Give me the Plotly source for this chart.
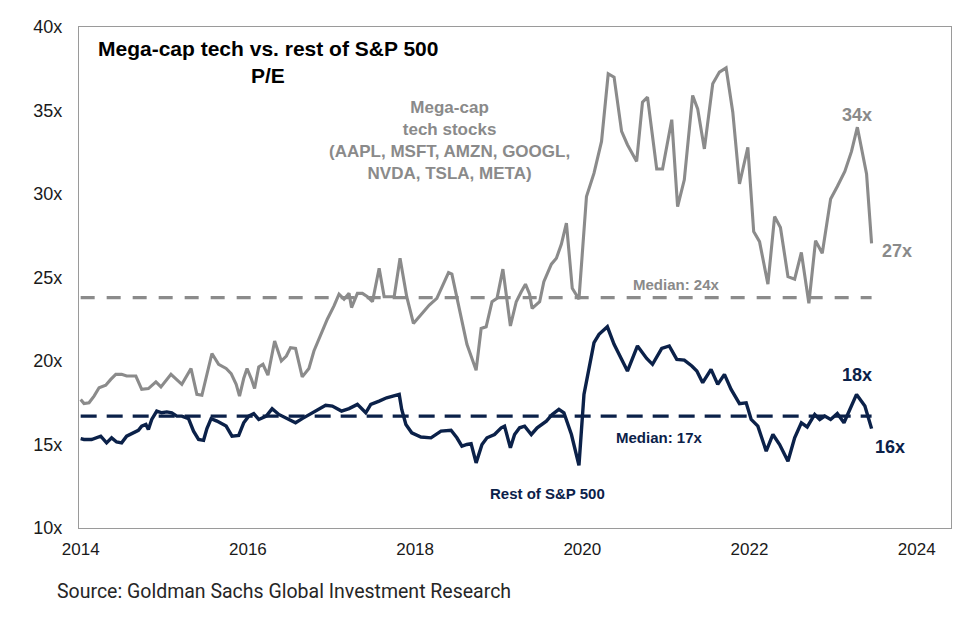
import plotly.graph_objects as go

# ---------------- data ----------------
mega_years = [2014.0, 2014.04, 2014.10, 2014.16, 2014.22, 2014.30, 2014.36, 2014.42, 2014.49, 2014.55,
              2014.66, 2014.73, 2014.81, 2014.90, 2014.96, 2015.08, 2015.21, 2015.32, 2015.39, 2015.45,
              2015.57, 2015.65, 2015.74, 2015.80, 2015.86, 2015.90, 2015.95, 2015.99, 2016.04, 2016.08,
              2016.13, 2016.18, 2016.24, 2016.32, 2016.40, 2016.46, 2016.51, 2016.57, 2016.65, 2016.73,
              2016.79, 2016.87, 2016.95, 2017.03, 2017.09, 2017.15, 2017.21, 2017.24, 2017.31, 2017.37,
              2017.43, 2017.49, 2017.57, 2017.63, 2017.75, 2017.82, 2017.90, 2017.98, 2018.07, 2018.17,
              2018.26, 2018.32, 2018.40, 2018.44, 2018.50, 2018.56, 2018.62, 2018.73, 2018.79, 2018.85,
              2018.92, 2018.98, 2019.05, 2019.14, 2019.21, 2019.27, 2019.32, 2019.37, 2019.40, 2019.49,
              2019.54, 2019.63, 2019.69, 2019.75, 2019.81, 2019.88, 2019.96, 2020.05, 2020.14, 2020.23,
              2020.31, 2020.38, 2020.47, 2020.54, 2020.65, 2020.72, 2020.78, 2020.89, 2020.96, 2021.07,
              2021.14, 2021.22, 2021.32, 2021.38, 2021.46, 2021.56, 2021.64, 2021.72, 2021.80, 2021.88,
              2021.98, 2022.05, 2022.12, 2022.22, 2022.30, 2022.37, 2022.46, 2022.54, 2022.62, 2022.71,
              2022.79, 2022.87, 2022.97, 2023.05, 2023.14, 2023.22, 2023.29, 2023.40, 2023.46]
mega_pe = [17.7, 17.45, 17.5, 17.9, 18.4, 18.55, 18.9, 19.2, 19.2, 19.1,
           19.1, 18.3, 18.35, 18.75, 18.45, 19.2, 18.6, 19.55, 18.0, 17.95,
           20.45, 19.8, 19.55, 19.25, 18.6, 17.9, 18.95, 19.55, 18.95, 18.35,
           19.65, 19.8, 19.15, 21.2, 20.0, 20.3, 20.8, 20.75, 19.05, 19.55,
           20.6, 21.6, 22.5, 23.3, 24.0, 23.7, 24.05, 23.2, 24.05, 24.05,
           23.85, 23.55, 25.55, 23.85, 23.85, 26.15, 23.85, 22.25, 22.8, 23.35,
           23.75, 24.45, 25.3, 25.2, 23.85, 22.35, 21.0, 19.45, 21.95, 22.05,
           23.55, 23.75, 25.5, 22.1, 23.55, 24.15, 24.6, 24.0, 23.15, 23.55,
           24.75, 25.8, 26.15, 27.0, 28.25, 24.35, 23.7, 29.85, 31.25, 33.15,
           37.2, 37.0, 33.75, 32.95, 31.95, 35.5, 35.8, 31.5, 31.5, 34.45,
           29.25, 30.85, 35.9, 35.1, 32.7, 36.6, 37.3, 37.55, 34.9, 30.6,
           32.8, 27.75, 27.15, 24.6, 28.65, 28.0, 25.05, 24.9, 26.5, 23.45,
           27.2, 26.45, 29.7, 30.45, 31.35, 32.55, 34.0, 31.2, 27.05]

rest_years = [2014.00, 2014.04, 2014.13, 2014.24, 2014.31, 2014.37, 2014.43, 2014.49, 2014.55, 2014.63,
              2014.69, 2014.73, 2014.78, 2014.81, 2014.85, 2014.91, 2014.97, 2015.03, 2015.09, 2015.15,
              2015.21, 2015.29, 2015.35, 2015.41, 2015.47, 2015.51, 2015.56, 2015.63, 2015.74, 2015.81,
              2015.89, 2015.95, 2016.01, 2016.07, 2016.13, 2016.22, 2016.29, 2016.37, 2016.47, 2016.57,
              2016.65, 2016.75, 2016.85, 2016.93, 2017.01, 2017.09, 2017.12, 2017.21, 2017.31, 2017.41,
              2017.47, 2017.57, 2017.66, 2017.81, 2017.84, 2017.89, 2017.96, 2018.07, 2018.19, 2018.31,
              2018.43, 2018.50, 2018.56, 2018.62, 2018.67, 2018.73, 2018.80, 2018.86, 2018.95, 2019.03,
              2019.07, 2019.14, 2019.19, 2019.25, 2019.31, 2019.39, 2019.46, 2019.57, 2019.64, 2019.72,
              2019.78, 2019.87, 2019.96, 2020.02, 2020.08, 2020.14, 2020.20, 2020.30, 2020.38, 2020.47,
              2020.54, 2020.66, 2020.77, 2020.84, 2020.95, 2021.04, 2021.13, 2021.22, 2021.31, 2021.37,
              2021.44, 2021.54, 2021.62, 2021.70, 2021.78, 2021.88, 2021.96, 2022.02, 2022.10, 2022.20,
              2022.28, 2022.36, 2022.46, 2022.54, 2022.62, 2022.69, 2022.78, 2022.84, 2022.90, 2022.97,
              2023.05, 2023.13, 2023.20, 2023.28, 2023.38, 2023.46]
rest_pe = [15.35, 15.3, 15.3, 15.5, 15.1, 15.4, 15.15, 15.1, 15.5, 15.7,
           15.85, 16.1, 16.2, 15.9, 16.5, 17.0, 16.9, 16.95, 16.9, 16.7,
           16.7, 16.55, 15.8, 15.3, 15.25, 15.95, 16.55, 16.4, 16.1, 15.5,
           15.55, 16.3, 16.7, 16.85, 16.5, 16.7, 17.15, 16.8, 16.55, 16.3,
           16.55, 16.85, 17.15, 17.35, 17.3, 17.1, 17.0, 17.15, 17.4, 16.9,
           17.4, 17.6, 17.8, 18.0, 17.1, 16.2, 15.7, 15.45, 15.4, 15.8,
           15.85, 15.4, 14.9, 15.0, 15.05, 13.9, 15.0, 15.4, 15.6, 16.0,
           16.1, 14.8, 15.6, 16.0, 16.1, 15.6, 16.0, 16.4, 16.8, 17.1,
           16.9, 15.6, 13.75, 18.0, 19.55, 21.1, 21.6, 22.05, 21.0, 20.15,
           19.4, 20.9, 20.15, 19.8, 20.75, 20.9, 20.1, 20.05, 19.7, 19.4,
           18.7, 19.5, 18.6, 19.2, 18.3, 17.45, 17.5, 16.5, 16.1, 14.6,
           15.6, 15.0, 14.0, 15.4, 16.3, 16.05, 16.8, 16.5, 16.7, 16.5,
           16.85, 16.3, 17.1, 18.0, 17.3, 15.95]

mega_median = 23.8
rest_median = 16.7
median_span = [2014.0, 2023.46]

x_ticks = [2014, 2016, 2018, 2020, 2022, 2024]
y_ticks = [10, 15, 20, 25, 30, 35, 40]
y_tick_text = ["10x", "15x", "20x", "25x", "30x", "35x", "40x"]

GRAY = "#8b8b8b"
GRAY_TXT = "#8a8a8a"
NAVY = "#0b2149"
FONT = "Liberation Sans, Arial, sans-serif"

fig = go.Figure()

fig.add_trace(go.Scatter(x=median_span, y=[mega_median] * 2, mode="lines",
                         line=dict(color=GRAY, width=3.2, dash="14px,12px"),
                         hoverinfo="skip", showlegend=False))
fig.add_trace(go.Scatter(x=median_span, y=[rest_median] * 2, mode="lines",
                         line=dict(color=NAVY, width=3.2, dash="16px,10px"),
                         hoverinfo="skip", showlegend=False))
fig.add_trace(go.Scatter(x=mega_years, y=mega_pe, mode="lines",
                         line=dict(color=GRAY, width=3.1), name="Mega-cap tech",
                         showlegend=False))
fig.add_trace(go.Scatter(x=rest_years, y=rest_pe, mode="lines",
                         line=dict(color=NAVY, width=3.4), name="Rest of S&P 500",
                         showlegend=False))


def note(text, x, y, color, size, xanchor="center"):
    fig.add_annotation(x=x, y=y, xref="x", yref="y", text=text, showarrow=False,
                       xanchor=xanchor, yanchor="middle",
                       font=dict(family=FONT, size=size, color=color))


note("<b>34x</b>", 2023.29, 34.75, GRAY_TXT, 18)
note("<b>27x</b>", 2023.77, 26.56, GRAY_TXT, 18)
note("<b>18x</b>", 2023.28, 19.15, NAVY, 18)
note("<b>16x</b>", 2023.68, 14.84, NAVY, 18)
note("<b>Median: 24x</b>", 2021.13, 24.58, GRAY_TXT, 15)
note("<b>Median: 17x</b>", 2020.92, 15.44, NAVY, 15)
note("<b>Rest of S&P 500</b>", 2019.58, 12.09, NAVY, 15)
note("<b>Mega-cap<br>tech stocks<br>(AAPL, MSFT, AMZN, GOOGL,<br>NVDA, TSLA, META)</b>",
     2018.41, 33.19, GRAY_TXT, 17)

# title
fig.add_annotation(x=0.2167, y=0.958, xref="paper", yref="paper", showarrow=False,
                   text="<b>Mega-cap tech vs. rest of S&P 500</b>", xanchor="center",
                   yanchor="middle", font=dict(family=FONT, size=21, color="#000000"))
fig.add_annotation(x=0.2167, y=0.904, xref="paper", yref="paper", showarrow=False,
                   text="<b>P/E</b>", xanchor="center", yanchor="middle",
                   font=dict(family=FONT, size=21, color="#000000"))
# source
fig.add_annotation(x=-0.0275, y=-0.126, xref="paper", yref="paper", showarrow=False,
                   text="Source: Goldman Sachs Global Investment Research", xanchor="left",
                   yanchor="middle",
                   font=dict(family="Liberation Sans Narrow, Roboto, Liberation Sans, sans-serif",
                             size=19.5, color="#262626"))

fig.update_layout(
    width=975, height=627,
    margin=dict(l=79, r=24, t=27, b=99),
    paper_bgcolor="white", plot_bgcolor="white",
    showlegend=False,
    xaxis=dict(range=[2013.98, 2024.41], tickvals=x_ticks, ticktext=[str(t) for t in x_ticks],
               showgrid=False, zeroline=False, showline=True, mirror=True,
               linecolor="#9a9a9a", linewidth=1.2, ticks="", ticklabelstandoff=5,
               tickfont=dict(family=FONT, size=17, color="#1a1a1a")),
    yaxis=dict(range=[10, 40], tickvals=y_ticks, ticktext=y_tick_text,
               showgrid=False, zeroline=False, showline=True, mirror=True,
               linecolor="#9a9a9a", linewidth=1.2, ticks="", ticklabelstandoff=12,
               tickfont=dict(family=FONT, size=18, color="#1a1a1a")),
)

fig.write_html("out.html", config={"displayModeBar": False},
               post_script="document.body.style.margin='0';document.body.style.overflow='hidden';")
